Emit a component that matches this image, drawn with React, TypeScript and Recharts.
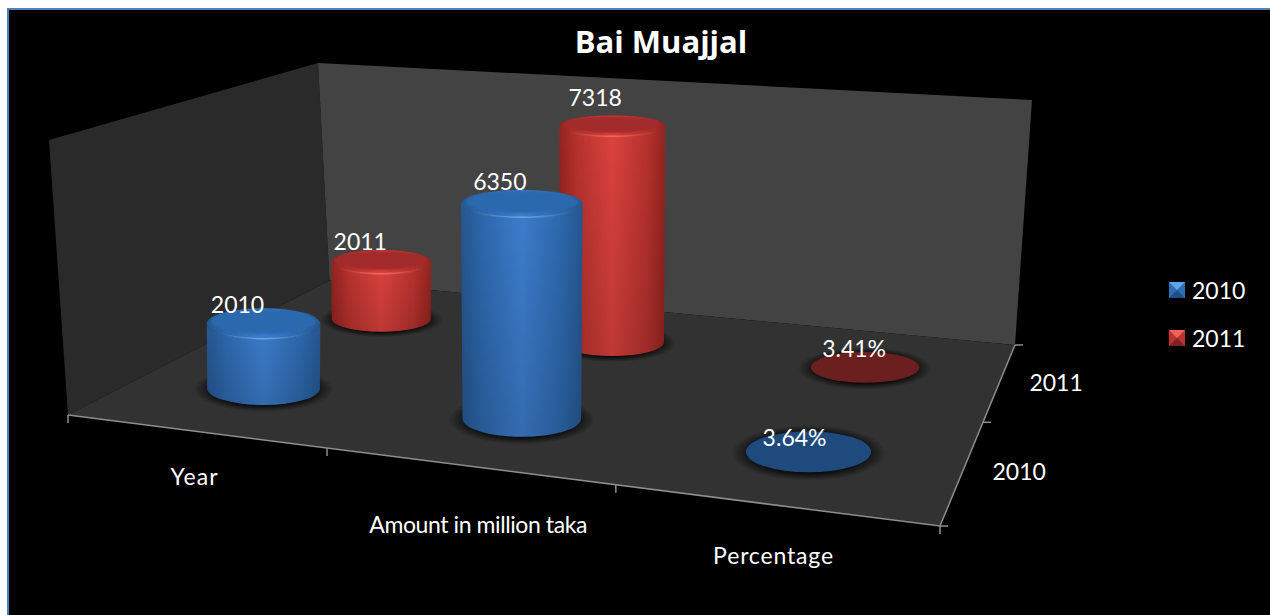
import React from "react";
import { BarChart, Bar, XAxis, YAxis, Legend, Customized } from "recharts";

// Values plotted on the chart
const categories = ["Year", "Amount in million taka", "Percentage"];
const series2010 = [2010, 6350, 3.64];
const series2011 = [2011, 7318, 3.41];
const depthLabels = ["2010", "2011"];
const seriesNames = ["2010", "2011"];
const chartTitle = "Bai Muajjal";

const rows = categories.map((category, i) => ({
  category,
  s2010: series2010[i],
  s2011: series2011[i],
}));

// Canvas and scale setup
const W = 1270;
const H = 615;
const AXIS_H = 1;
const Y_MAX = 8000;
const FONT = "Lato, Carlito, Calibri, sans-serif";
const TEXT_SIZE = 23;

// Floor plane projection: (u, v) in the unit square, u along categories, v into depth
const G = -0.155;
const HH = 0.289;
const A = 726.3;
const B = 356.7;
const C = 68;
const D = 29.5;
const E = -53.3;
const F = 415;

const denom = (u: number, v: number) => 1 + G * u + HH * v;
const project = (u: number, v: number) => {
  const w = denom(u, v);
  return { x: (A * u + B * v + C) / w, y: (D * u + E * v + F) / w };
};
const pts = (list: { x: number; y: number }[]) => list.map((p) => `${p.x},${p.y}`).join(" ");

// Back wall rises from the floor to these upper corners
const WALL_BACK_LEFT = { x: 318, y: 63 };
const WALL_BACK_RIGHT = { x: 1032, y: 100 };
const WALL_FRONT_LEFT = { x: 49, y: 140 };

// Cylinder proportions
const RADIUS_K = 59;
const FLOOR_RADIUS_V = 0.105;
const HEIGHT_PER_UNIT = 0.00057;
const CATEGORY_SPREAD = 1.005;
const SPREAD_PIVOT = 5 / 6;

// Placement of data labels relative to each cylinder's top
const VALUE_LABEL_DX: Record<string, number[]> = {
  s2010: [-26, -22, -14],
  s2011: [-21, -17, -11],
};
const VALUE_LABEL_DY: Record<string, number[]> = {
  s2010: [5, 0, 15],
  s2011: [0, -9, 5],
};
const CATEGORY_LABEL_OFFSET = [
  [0, 54],
  [11, 67],
  [0, 59],
];
const CATEGORY_LABEL_WIDTH = [47, 218, 120];

const PALETTE: Record<string, any> = {
  s2010: { edge: "#25568f", mid: "#2d68ad", bright: "#3c7dcc", top: "#2a69ae", glint: "#7db4ee", flat: "#1f4a7d" },
  s2011: { edge: "#93231f", mid: "#b8322e", bright: "#dc423d", top: "#a32b29", glint: "#f27a72", flat: "#6b1f1e" },
};

const LEGEND_ICON: Record<string, any> = {
  "2010": { top: "#63a3e6", side: "#2e6cb3", low: "#1f4e86" },
  "2011": { top: "#f2615c", side: "#b93431", low: "#7b2322" },
};

const Scene = () => {
  const fl = project(0, 0);
  const fr = project(1, 0);
  const br = project(1, 1);
  const bl = project(0, 1);
  const axis = "#8e8e8e";
  const catTicks = [0, 1 / 3, 2 / 3, 1].map((u) => project(u, 0));
  const depthTicks = [0, 0.5, 1].map((v) => project(1, v));
  return (
    <g>
      <defs>
        <radialGradient id="floorShadow">
          <stop offset="0%" stopColor="#000" stopOpacity={0.95} />
          <stop offset="70%" stopColor="#000" stopOpacity={0.8} />
          <stop offset="100%" stopColor="#000" stopOpacity={0} />
        </radialGradient>
        <linearGradient id="bodyShade" x1="0" y1="0" x2="0" y2="1">
          <stop offset="0%" stopColor="#000" stopOpacity={0} />
          <stop offset="100%" stopColor="#000" stopOpacity={0.14} />
        </linearGradient>
        <filter id="softTop" x="-10%" y="-20%" width="120%" height="140%">
          <feGaussianBlur stdDeviation="1.2" />
        </filter>
        {Object.keys(PALETTE).map((k) => (
          <React.Fragment key={k}>
            <linearGradient id={`body-${k}`} x1="0" y1="0" x2="1" y2="0">
              <stop offset="0%" stopColor={PALETTE[k].edge} />
              <stop offset="18%" stopColor={PALETTE[k].mid} />
              <stop offset="50%" stopColor={PALETTE[k].bright} />
              <stop offset="82%" stopColor={PALETTE[k].mid} />
              <stop offset="100%" stopColor={PALETTE[k].edge} />
            </linearGradient>
            <linearGradient id={`glint-${k}`} x1="0" y1="0" x2="1" y2="0">
              <stop offset="0%" stopColor={PALETTE[k].glint} stopOpacity={0} />
              <stop offset="50%" stopColor={PALETTE[k].glint} stopOpacity={0.75} />
              <stop offset="100%" stopColor={PALETTE[k].glint} stopOpacity={0} />
            </linearGradient>
          </React.Fragment>
        ))}
      </defs>
      <polygon points={pts([WALL_FRONT_LEFT, WALL_BACK_LEFT, bl, fl])} fill="#2a2a2a" />
      <polygon points={pts([WALL_BACK_LEFT, WALL_BACK_RIGHT, br, bl])} fill="#434343" />
      <polygon points={pts([fl, fr, br, bl])} fill="#323232" />
      <polyline points={pts([fl, fr, br])} fill="none" stroke={axis} strokeWidth={1.5} />
      {catTicks.map((p, i) => (
        <line key={i} x1={p.x} y1={p.y} x2={p.x} y2={p.y + 8} stroke={axis} strokeWidth={1.5} />
      ))}
      {depthTicks.map((p, i) => (
        <line key={i} x1={p.x} y1={p.y} x2={p.x + 8} y2={p.y} stroke={axis} strokeWidth={1.5} />
      ))}
      {depthLabels.map((label, i) => {
        const p = project(1, (i + 0.5) / depthLabels.length);
        return (
          <text key={label} x={p.x + 56} y={p.y + 10} textAnchor="middle" fontFamily={FONT} fontSize={TEXT_SIZE} fill="#fff">
            {label}
          </text>
        );
      })}
      <text x={661} y={53} textAnchor="middle" fontFamily="'Open Sans', sans-serif" fontWeight={700} fontSize={31} fill="#fff">
        {chartTitle}
      </text>
    </g>
  );
};

// Draws one bar as a cylinder standing on the floor plane
const cylinder = (seriesKey: string, v: number) => (props: any) => {
  const { x, width, height, index, value } = props;
  const c = PALETTE[seriesKey];
  const u = SPREAD_PIVOT + ((x + width / 2) / W - SPREAD_PIVOT) * CATEGORY_SPREAD;
  const base = project(u, v);
  const rx = RADIUS_K / denom(u, v);
  const ry = (project(u, v - FLOOR_RADIUS_V).y - project(u, v + FLOOR_RADIUS_V).y) / 2;
  const h = (height / ((H - AXIS_H) / Y_MAX)) * HEIGHT_PER_UNIT * rx;
  const topY = base.y - h;
  const rxTop = rx * (1 + h * 0.00012);
  const ryTop = ry * (1 - h * 0.00115);
  const isPercent = categories[index] === "Percentage";
  const text = isPercent ? `${value}%` : `${value}`;
  const labelX = base.x + VALUE_LABEL_DX[seriesKey][index];
  const labelY = topY - ryTop + VALUE_LABEL_DY[seriesKey][index];
  const flat = h < 3;
  const body = `M${base.x - rxTop},${topY} L${base.x - rx},${base.y} A${rx},${ry} 0 0 0 ${base.x + rx},${base.y} L${base.x + rxTop},${topY} A${rxTop},${ryTop} 0 0 1 ${base.x - rxTop},${topY} Z`;
  return (
    <g>
      <ellipse cx={base.x} cy={base.y + 1} rx={rx * 1.24} ry={ry * 1.36} fill="url(#floorShadow)" />
      {flat ? (
        <ellipse cx={base.x} cy={topY} rx={rxTop} ry={ryTop} fill={c.flat} />
      ) : (
        <g>
          <path d={body} fill={`url(#body-${seriesKey})`} />
          <path d={body} fill="url(#bodyShade)" />
          <ellipse cx={base.x} cy={topY} rx={rxTop} ry={ryTop} fill={`url(#body-${seriesKey})`} />
          <ellipse
            cx={base.x}
            cy={topY - ryTop * 0.14}
            rx={rxTop * 0.92}
            ry={ryTop * 0.8}
            fill={c.top}
            filter="url(#softTop)"
          />
          <path
            d={`M${base.x - rxTop * 0.85},${topY + ryTop * 0.5} A${rxTop},${ryTop} 0 0 0 ${base.x + rxTop * 0.85},${topY + ryTop * 0.5}`}
            fill="none"
            stroke={`url(#glint-${seriesKey})`}
            strokeWidth={1.5}
          />
        </g>
      )}
      <text x={labelX} y={labelY} textAnchor="middle" fontFamily={FONT} fontSize={TEXT_SIZE} fill="#fff">
        {text}
      </text>
    </g>
  );
};

const CategoryTick = (props: any) => {
  const { x, index, payload } = props;
  const p = project(x / W, 0);
  const [dx, dy] = CATEGORY_LABEL_OFFSET[index];
  return (
    <text
      x={p.x + dx}
      y={p.y + dy}
      textAnchor="middle"
      textLength={CATEGORY_LABEL_WIDTH[index]}
      fontFamily={FONT}
      fontSize={TEXT_SIZE}
      fill="#fff"
    >
      {payload.value}
    </text>
  );
};

const LegendBox = ({ payload }: any) => {
  const items = [...(payload || [])].sort((a: any, b: any) => String(a.value).localeCompare(String(b.value)));
  return (
    <div style={{ fontFamily: FONT, fontSize: TEXT_SIZE, color: "#fff" }}>
      {items.map((item: any) => {
        const ic = LEGEND_ICON[item.value];
        return (
          <div key={item.value} style={{ display: "flex", alignItems: "center", height: 48 }}>
            <svg width={16} height={16} style={{ marginRight: 7, display: "block" }}>
              <rect width={16} height={16} fill={ic.side} />
              <polygon points="0,0 16,0 8,8" fill={ic.top} />
              <polygon points="0,16 16,16 8,8" fill={ic.low} />
            </svg>
            <span>{item.value}</span>
          </div>
        );
      })}
    </div>
  );
};

export default function App() {
  return (
    <div style={{ position: "absolute", left: 0, top: 0, width: W, height: H, overflow: "hidden", background: "#fff" }}>
      <div
        style={{
          position: "absolute",
          left: 7,
          top: 8,
          right: 0,
          bottom: 0,
          background: "#000",
          borderLeft: "2px solid #4f81bd",
          borderTop: "2px solid #4f81bd",
        }}
      />
      <div style={{ position: "absolute", left: 0, top: 0 }}>
        <BarChart width={W} height={H} data={rows} margin={{ top: 0, right: 0, bottom: 0, left: 0 }} barCategoryGap="10%">
          <XAxis
            xAxisId="front"
            dataKey="category"
            height={AXIS_H}
            axisLine={false}
            tickLine={false}
            interval={0}
            tick={CategoryTick}
          />
          <XAxis xAxisId="rear" dataKey="category" hide />
          <YAxis hide domain={[0, Y_MAX]} />
          <Customized component={Scene} />
          <Bar
            xAxisId="rear"
            dataKey="s2011"
            name={seriesNames[1]}
            fill="#c0392f"
            isAnimationActive={false}
            shape={cylinder("s2011", 0.75)}
          />
          <Bar
            xAxisId="front"
            dataKey="s2010"
            name={seriesNames[0]}
            fill="#2f6fb8"
            isAnimationActive={false}
            shape={cylinder("s2010", 0.25)}
          />
          <Legend
            layout="vertical"
            align="center"
            verticalAlign="middle"
            content={LegendBox}
            wrapperStyle={{ left: 1169, top: 266, width: 90 }}
          />
        </BarChart>
      </div>
    </div>
  );
}
